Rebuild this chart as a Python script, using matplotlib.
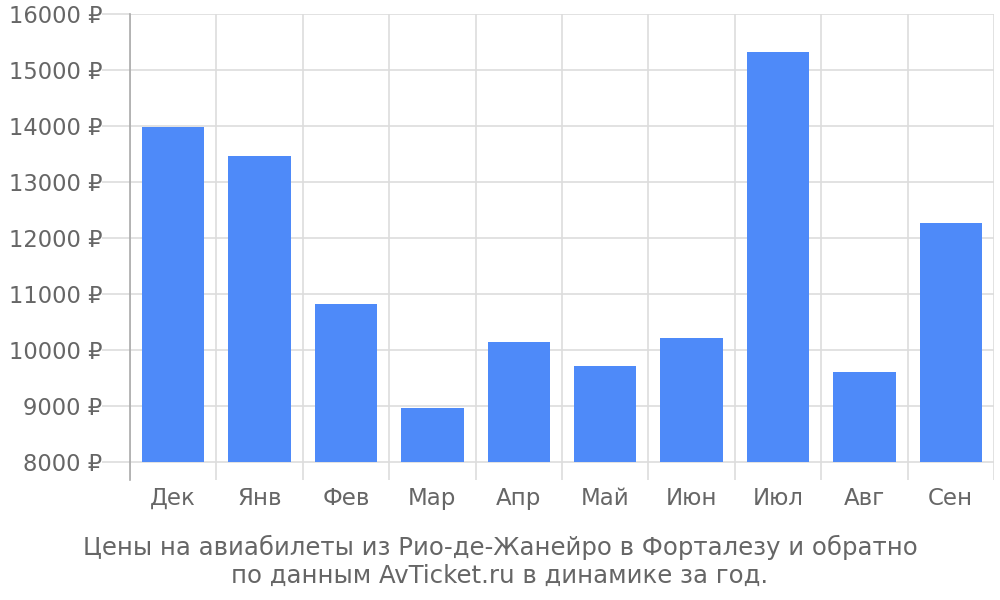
import matplotlib
matplotlib.use("Agg")
import matplotlib.pyplot as plt
import numpy as np

months = ["Дек", "Янв", "Фев", "Мар", "Апр", "Май", "Июн", "Июл", "Авг", "Сен"]
prices = [13990, 13460, 10820, 8970, 10140, 9720, 10220, 15320, 9600, 12260]
yticks = [8000, 9000, 10000, 11000, 12000, 13000, 14000, 15000, 16000]
title = "Цены на авиабилеты из Рио-де-Жанейро в Форталезу и обратно\nпо данным AvTicket.ru в динамике за год."

plt.rcParams['font.family'] = ['DejaVu Sans']
fig = plt.figure(figsize=(10, 6), dpi=100)
ax = fig.add_axes([0.13, 0.2, 0.864, 0.7767])

x = np.arange(len(months))
base = 8000
ax.bar(x, [p - base for p in prices], bottom=base, width=0.72, color="#4e8af9", zorder=3)

ax.set_xlim(-0.5, len(months) - 0.5)
ax.set_ylim(7680, 16000)
ax.set_yticks(yticks)
ax.set_yticklabels([f"{v} ₽" for v in yticks])
ax.set_xticks(x)
ax.set_xticklabels(months)
ax.set_xticks(np.arange(-0.5, len(months)), minor=True)

ax.grid(axis='y', color="#dddddd", linewidth=1.2, zorder=0)
ax.grid(axis='x', which='minor', color="#dddddd", linewidth=1.2, zorder=0)
ax.grid(axis='x', which='major', visible=False)

for s in ['top', 'right', 'bottom']:
    ax.spines[s].set_visible(False)
ax.spines['left'].set_color("#aaaaaa")
ax.spines['left'].set_linewidth(1.2)

ax.tick_params(axis='y', length=20, color="#dddddd", width=1.2, labelsize=16.3, labelcolor="#666666", pad=0)
ax.tick_params(axis='x', which='major', length=0, labelsize=16.5, labelcolor="#666666", pad=5)
ax.tick_params(axis='x', which='minor', length=0)

fig.text(0.5, 0.064, title, ha='center', va='center', fontsize=17.6, color="#666666", linespacing=1.18)

fig.savefig("out.png", dpi=100)
